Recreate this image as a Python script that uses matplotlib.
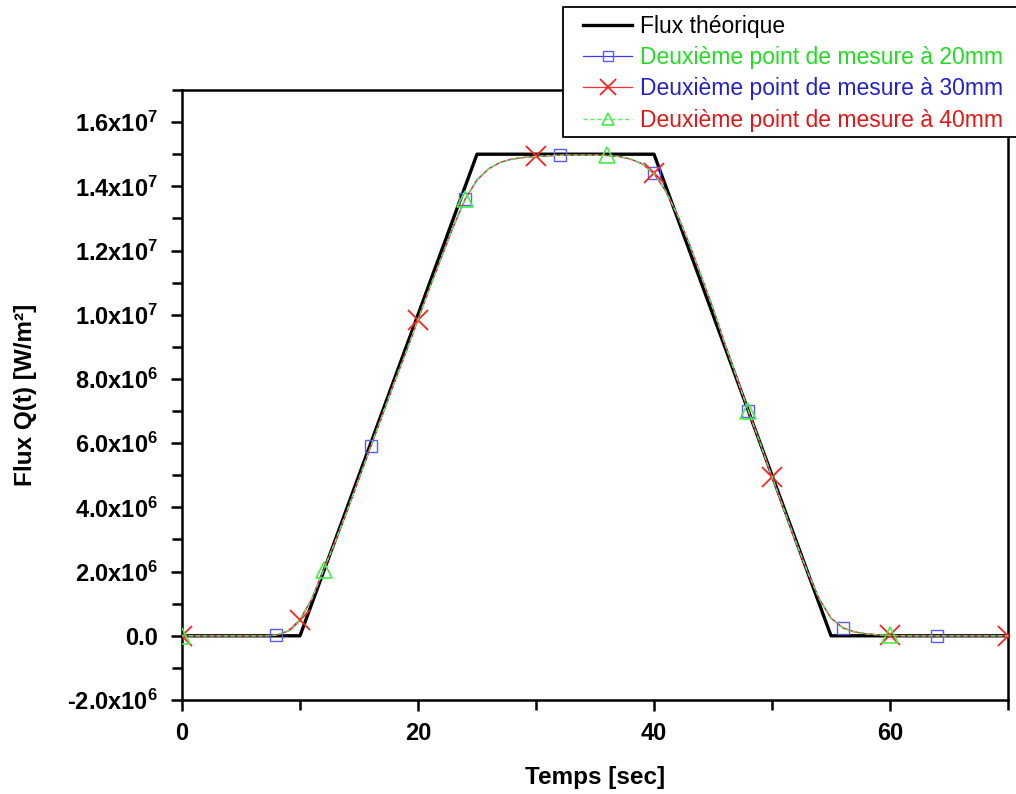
import numpy as np
import matplotlib
matplotlib.use("Agg")
import matplotlib.pyplot as plt
from matplotlib.patches import Rectangle
from matplotlib.ticker import FixedLocator, MultipleLocator, FuncFormatter

plt.rcParams['font.family'] = ['Liberation Sans', 'DejaVu Sans']
plt.rcParams['mathtext.fontset'] = 'custom'
plt.rcParams['mathtext.rm'] = 'Liberation Sans:bold'
plt.rcParams['mathtext.it'] = 'Liberation Sans:bold'
plt.rcParams['mathtext.bf'] = 'Liberation Sans:bold'

# theoretical flux profile (ramp up, plateau, ramp down)
t_theo = [0, 10, 25, 40, 55, 70]
q_theo = [0.0, 0.0, 1.5e7, 1.5e7, 0.0, 0.0]

# measured flux, one sample per second (W/m2, in units of 1e6)
t_mes = list(range(0, 71))
q_mes_1e6 = [
    0, 0, 0, 0, 0, 0, 0, 0, 0.02, 0.15,
    0.5, 1.15, 2.05, 2.95, 3.9, 4.9, 5.9, 6.9, 7.9, 8.85,
    9.85, 10.85, 11.8, 12.75, 13.6, 14.2, 14.55, 14.75, 14.85, 14.9,
    14.93, 14.95, 14.97, 14.97, 14.97, 14.97, 14.96, 14.93, 14.85, 14.7,
    14.4, 13.85, 13.1, 12.2, 11.2, 10.2, 9.1, 8.05, 7.0, 6.0,
    4.95, 3.95, 2.95, 2.0, 1.15, 0.55, 0.25, 0.12, 0.06, 0.03,
    0.01, 0, 0, 0, 0, 0, 0, 0, 0, 0, 0,
]
q_mes = np.array(q_mes_1e6) * 1e6

labels = [
    "Flux théorique",
    "Deuxième point de mesure à 20mm",
    "Deuxième point de mesure à 30mm",
    "Deuxième point de mesure à 40mm",
]
label_colors = ["black", "#22dd22", "#2222cc", "#e01818"]

W, H = 1016, 794
fig = plt.figure(figsize=(W / 100, H / 100), dpi=100)
ax = fig.add_axes([182 / W, 1 - 700 / H, 826 / W, 610 / H])

ax.plot(t_theo, q_theo, color="black", lw=2.4, label=labels[0], zorder=2)
ax.plot(t_mes, q_mes, color="#3a3aff", lw=0.9, marker="s", ms=9,
        mfc="none", mec="#5a5aff", mew=1.0, markevery=slice(8, None, 8),
        label=labels[1], zorder=3)
ax.plot(t_mes, q_mes, color="#ff3030", lw=0.9, marker="x", ms=15,
        mec="#ff2020", mew=1.3, markevery=10, label=labels[2], zorder=4)
ax.plot(t_mes, q_mes, color="#55ee55", lw=1.0, ls=(0, (3, 2)), marker="^",
        ms=11, mfc="none", mec="#44ee44", mew=1.2, markevery=12,
        label=labels[3], zorder=5)

ax.set_xlim(0, 70)
ax.set_ylim(-2e6, 1.7e7)

ax.xaxis.set_major_locator(FixedLocator([0, 20, 40, 60]))
ax.xaxis.set_minor_locator(FixedLocator([10, 30, 50, 70]))
ax.yaxis.set_major_locator(MultipleLocator(2e6))
ax.yaxis.set_minor_locator(MultipleLocator(1e6))


def fmt_y(v, pos):
    if abs(v) < 1:
        return "0.0"
    exp = int(np.floor(np.log10(abs(v))))
    mant = abs(v) / 10 ** exp
    sign = "-" if v < 0 else ""
    return sign + r"$%.1f\mathrm{x}10^{%d}$" % (mant, exp)


ax.yaxis.set_major_formatter(FuncFormatter(fmt_y))

for s in ax.spines.values():
    s.set_linewidth(1.8)
ax.tick_params(axis="both", which="major", direction="out", length=8,
               width=1.8, labelsize=17)
ax.tick_params(axis="y", which="major", pad=9)
ax.tick_params(axis="x", which="major", pad=8)
ax.tick_params(axis="both", which="minor", direction="out", length=7,
               width=1.8)
ax.tick_params(top=False, right=False, which="both")
for lab in ax.get_xticklabels() + ax.get_yticklabels():
    lab.set_fontweight("bold")

ax.set_xlabel("Temps [sec]", fontsize=17.5, fontweight="bold")
ax.set_ylabel("Flux Q(t) [W/m²]", fontsize=17.5, fontweight="bold")
ax.xaxis.set_label_coords(0.5, -0.108)
ax.yaxis.set_label_coords(-0.176, 0.5)

# legend frame sits over the top-right corner of the axes
fig.patches.append(Rectangle((563 / W, 1 - 137 / H), 460 / W, 130 / H,
                             transform=fig.transFigure, facecolor="white",
                             edgecolor="black", lw=1.3, zorder=3))
leg = fig.legend(loc="upper left", bbox_to_anchor=(583 / W, 1 - 15 / H),
                 bbox_transform=fig.transFigure, borderaxespad=0,
                 borderpad=0, frameon=False, fontsize=16.5,
                 handlelength=2.15, handletextpad=0.35, labelspacing=0.36,
                 markerscale=0.75)
leg.set_zorder(6)
for txt, c in zip(leg.get_texts(), label_colors):
    txt.set_color(c)

fig.savefig("out.png", dpi=100)
